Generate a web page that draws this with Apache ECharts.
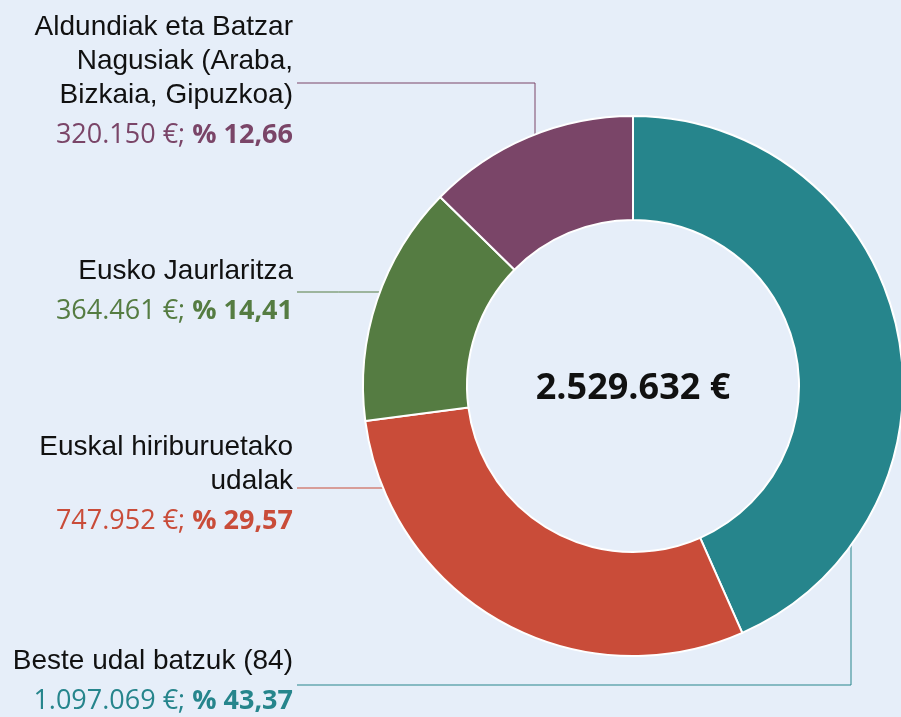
<!DOCTYPE html>
<html>
<head>
<meta charset="utf-8">
<script src="https://cdn.jsdelivr.net/npm/echarts@6/dist/echarts.min.js"></script>
<style>
  html, body { margin: 0; padding: 0; background: #e6eef9; }
  #main { width: 901px; height: 717px; }
</style>
</head>
<body>
<div id="main"></div>
<script>
// data
const names = [
  'Beste udal batzuk (84)',
  'Euskal hiriburuetako\nudalak',
  'Eusko Jaurlaritza',
  'Aldundiak eta Batzar\nNagusiak (Araba,\nBizkaia, Gipuzkoa)'
];
const values = [1097069, 747952, 364461, 320150];
const colors = ['#26858c', '#c94c39', '#557c42', '#7a4568'];
const total = values.reduce((a, b) => a + b, 0);

// pie geometry
const cx = 633, cy = 386, rIn = 166, rOut = 270;

// label anchors (right edge / top) and leader line y or x
const labelPos = [
  {x: 293, y: 644, line: 'down', lx: 851, ly: 685},
  {x: 293, y: 430, line: 'h', ly: 488},
  {x: 293, y: 254, line: 'h', ly: 292},
  {x: 293, y: 10, line: 'up', lx: 535, ly: 83}
];

function fmtNum(v) {
  return String(v).replace(/\B(?=(\d{3})+(?!\d))/g, '.');
}
function fmtPct(v) {
  return (v / total * 100).toFixed(2).replace('.', ',');
}

const chart = echarts.init(document.getElementById('main'));

const data = values.map((v, i) => ({
  name: names[i],
  value: v,
  itemStyle: {color: colors[i]},
  label: {
    rich: {
      n: {fontFamily: 'Liberation Sans', fontSize: 28, color: '#111', lineHeight: 34, align: 'right'},
      v: {fontFamily: 'Open Sans', fontSize: 27, color: colors[i], lineHeight: 46, align: 'right'},
      b: {fontFamily: 'Open Sans', fontSize: 27, fontWeight: 'bold', color: colors[i], lineHeight: 46, align: 'right'}
    }
  },
  labelLine: {lineStyle: {color: colors[i], width: 1}}
}));

function linePoints(i) {
  const p = labelPos[i];
  const sx = p.x + 4;
  if (p.line === 'h') {
    const ex = cx - Math.sqrt(rOut * rOut - (p.ly - cy) * (p.ly - cy));
    return [[ex, p.ly], [(ex + sx) / 2, p.ly], [sx, p.ly]];
  }
  const dy = Math.sqrt(rOut * rOut - (p.lx - cx) * (p.lx - cx));
  const ey = p.line === 'up' ? cy - dy : cy + dy;
  return [[p.lx, ey], [p.lx, p.ly], [sx, p.ly]];
}

chart.setOption({
  backgroundColor: '#e6eef9',
  animation: false,
  graphic: [{
    type: 'text',
    x: cx,
    y: cy + 3,
    style: {
      text: fmtNum(total) + ' €',
      fontFamily: 'Open Sans',
      fontWeight: 'bold',
      fontSize: 36,
      fill: '#111',
      align: 'center',
      verticalAlign: 'middle'
    }
  }],
  series: [{
    type: 'pie',
    center: [cx, cy],
    radius: [rIn, rOut],
    startAngle: 90,
    clockwise: true,
    avoidLabelOverlap: false,
    itemStyle: {borderColor: '#ffffff', borderWidth: 2},
    label: {
      show: true,
      position: 'outside',
      width: 400,
      overflow: 'none',
      fontFamily: 'Liberation Sans',
      fontSize: 28,
      color: '#111',
      formatter: function (p) {
        const lines = p.name.split('\n').map(s => '{n|' + s + '}').join('\n');
        return lines + '\n{v|' + fmtNum(p.value) + ' €; }{b|% ' + fmtPct(p.value) + '}';
      }
    },
    labelLine: {show: true, length: 20, length2: 20},
    labelLayout: function (params) {
      const i = params.dataIndex;
      const p = labelPos[i];
      return {
        x: p.x,
        y: p.y,
        align: 'right',
        verticalAlign: 'top',
        labelLinePoints: linePoints(i)
      };
    },
    emphasis: {disabled: true},
    data: data
  }]
});
</script>
</body>
</html>
